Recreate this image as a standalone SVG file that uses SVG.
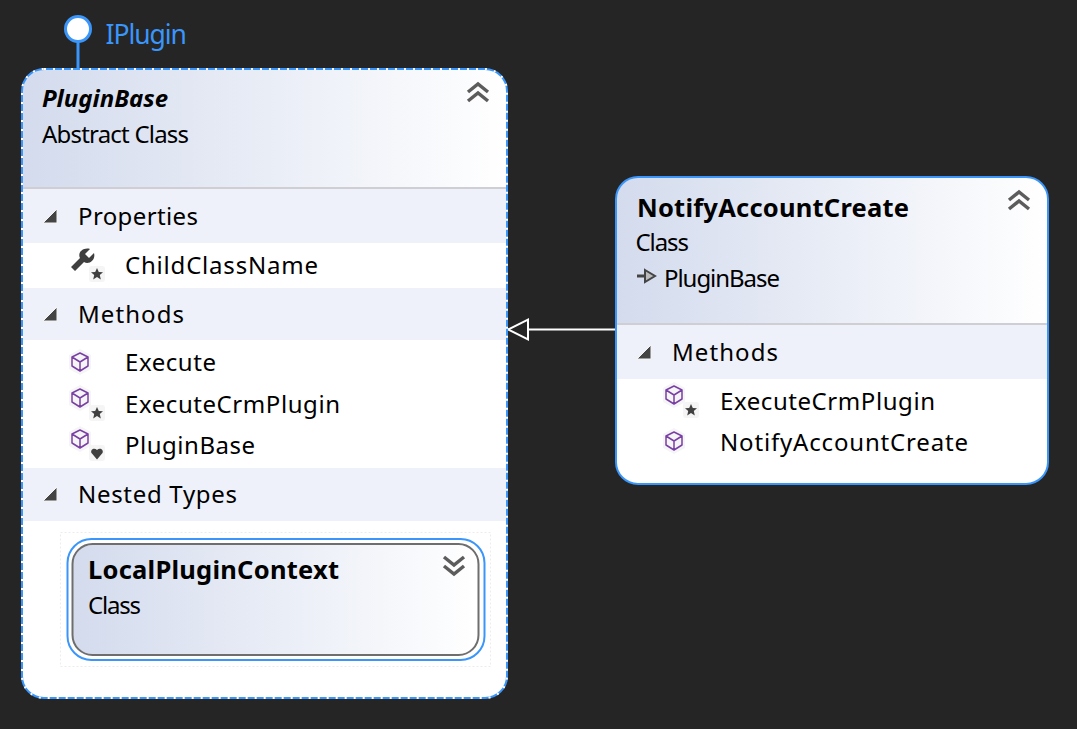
<svg xmlns="http://www.w3.org/2000/svg" xmlns:xlink="http://www.w3.org/1999/xlink" width="1077" height="729" viewBox="0 0 1077 729">
<style>
text{font-family:"Noto Sans","Open Sans","Liberation Sans",sans-serif;fill:#000;font-size:24px}
.t{font-weight:700;font-size:25.5px}
.band{fill:#eef1f9}
.div{stroke:#cfcfd3;stroke-width:2}
.chev{fill:none;stroke:#5c5c5c;stroke-width:3.5}
.tri{fill:#444;stroke:#f4f4f4;stroke-width:1}
.halo{fill:#f5f5f6}
.cube{fill:none;stroke:#7a3fa5;stroke-width:1.5;stroke-linejoin:round}
.mark{fill:#404040}
</style>
<defs>
<linearGradient id="hdr" x1="0" x2="1" y1="0" y2="0"><stop offset="0" stop-color="#d3dbed"/><stop offset="1" stop-color="#fff"/></linearGradient>
<clipPath id="cl1"><rect x="22" y="69" width="485" height="629" rx="22"/></clipPath>
<clipPath id="cl2"><rect x="616" y="177" width="432" height="307" rx="22"/></clipPath>
<g id="up"><path class="chev" d="M-10-1 0-9 10-1M-10 8 0 0 10 8"/></g>
<g id="down"><path class="chev" d="M-10-8 0 0 10-8M-10 1 0 9 10 1"/></g>
<g id="tr"><path class="tri" d="M-8 6 6 6 6-8Z"/></g>
<g id="cube"><path class="halo" d="M0-13 11-7 11 7 0 13-11 7-11-7Z"/><path class="cube" d="M0-9 8-5 8 4 0 9-8 4-8-5ZM-8-5 0 0 8-5M0 0 0 9"/></g>
<g id="star"><rect class="halo" x="-8" y="-8" width="16" height="16" rx="3"/><path class="mark" d="M0-6 1.8-2 6-1.700 2.800 1 3.800 5.500 0 3.100-3.800 5.500-2.800 1-6-1.700-1.800-2Z"/></g>
<g id="heart"><rect class="halo" x="-8" y="-8" width="16" height="16" rx="3"/><path class="mark" d="M0 6.500-5.500 0C-7-3-3-6 0-3 3-6 7-3 5.500 0Z"/></g>
</defs>
<rect width="1077" height="729" fill="#252525"/>

<g id="connectors">
<path d="M78 42V69" fill="none" stroke="#3a96fa" stroke-width="3"/>
<path d="M616 329.500H528" fill="none" stroke="#fff" stroke-width="2"/>
<path d="M508 329.500 528 319.500V339.500Z" fill="#252525" stroke="#fff" stroke-width="2"/>
</g>

<g id="iplugin">
<circle cx="78" cy="29" r="12.500" fill="#fff" stroke="#3a96fa" stroke-width="3"/>
<text x="105.500" y="44" textLength="81.500" style="fill:#3a96fa;font-size:26.5px">IPlugin</text>
</g>

<g id="pluginbase">
<rect x="22" y="69" width="485" height="629" rx="22" fill="#fff"/>
<g clip-path="url(#cl1)">
<rect x="22" y="69" width="485" height="119" fill="url(#hdr)"/>
<rect class="band" x="22" y="189" width="485" height="54"/>
<rect class="band" x="22" y="288" width="485" height="52"/>
<rect class="band" x="22" y="468" width="485" height="53"/>
<path class="div" d="M22 188H507"/>
</g>
<rect x="22" y="69" width="485" height="629" rx="22" fill="none" stroke="#3a96fa" stroke-width="2"/>
<rect x="22" y="69" width="485" height="629" rx="22" fill="none" stroke="#fff" stroke-width="2" stroke-dasharray="2 7"/>
<text x="42" y="107" textLength="126" style="font-weight:700;font-style:italic">PluginBase</text>
<text x="42" y="143" textLength="147">Abstract Class</text>
<use xlink:href="#up" href="#up" x="478" y="93"/>
<use xlink:href="#tr" href="#tr" x="51" y="217"/>
<text x="78" y="225" textLength="120">Properties</text>
<path d="M71 267 80 258C77 252 84 247 90 249L85 254 89 258 94 253C96 260 89 265 84 262L75 271Z" fill="#3f3f3f"/>
<use xlink:href="#star" href="#star" x="97" y="274"/>
<text x="125" y="274" textLength="193">ChildClassName</text>
<use xlink:href="#tr" href="#tr" x="51" y="315"/>
<text x="78" y="323" textLength="106">Methods</text>
<use xlink:href="#cube" href="#cube" x="80" y="362"/>
<text x="125" y="371" textLength="91">Execute</text>
<use xlink:href="#cube" href="#cube" x="80" y="398"/>
<use xlink:href="#star" href="#star" x="97" y="413"/>
<text x="125" y="413" textLength="215">ExecuteCrmPlugin</text>
<use xlink:href="#cube" href="#cube" x="80" y="439"/>
<use xlink:href="#heart" href="#heart" x="97" y="453"/>
<text x="125" y="454" textLength="130">PluginBase</text>
<use xlink:href="#tr" href="#tr" x="51" y="495"/>
<text x="78" y="503" textLength="159">Nested Types</text>
</g>

<g id="localplugincontext">
<rect x="60.500" y="532.500" width="430" height="134" fill="none" stroke="#ececef" stroke-width="1" stroke-dasharray="2 2"/>
<rect x="67.500" y="539" width="417" height="121" rx="24" fill="#fff" stroke="#3a96fa" stroke-width="2"/>
<rect x="72.500" y="544" width="406" height="111" rx="20" fill="url(#hdr)" stroke="#6e6e6e" stroke-width="2"/>
<text class="t" x="88" y="579" textLength="251">LocalPluginContext</text>
<text x="88" y="614" textLength="53">Class</text>
<use xlink:href="#down" href="#down" x="454" y="565"/>
</g>

<g id="notifyaccountcreate">
<rect x="616" y="177" width="432" height="307" rx="22" fill="#fff"/>
<g clip-path="url(#cl2)">
<rect x="616" y="177" width="432" height="147" fill="url(#hdr)"/>
<rect class="band" x="616" y="325" width="432" height="54"/>
<path class="div" d="M616 324H1048"/>
</g>
<rect x="616" y="177" width="432" height="307" rx="22" fill="none" stroke="#3a96fa" stroke-width="2"/>
<text class="t" x="637" y="217" textLength="272">NotifyAccountCreate</text>
<text x="635.500" y="251" textLength="53.500">Class</text>
<path d="M637 276H646" fill="none" stroke="#444" stroke-width="3"/>
<path d="M645 270 655 276 645 282Z" fill="#bbb" stroke="#444" stroke-width="2"/>
<text x="664" y="287" textLength="116">PluginBase</text>
<use xlink:href="#up" href="#up" x="1019" y="201"/>
<use xlink:href="#tr" href="#tr" x="645" y="353"/>
<text x="672" y="361" textLength="106">Methods</text>
<use xlink:href="#cube" href="#cube" x="674" y="395"/>
<use xlink:href="#star" href="#star" x="691" y="410"/>
<text x="720" y="410" textLength="215">ExecuteCrmPlugin</text>
<use xlink:href="#cube" href="#cube" x="674" y="441"/>
<text x="720" y="451" textLength="248">NotifyAccountCreate</text>
</g>
</svg>
